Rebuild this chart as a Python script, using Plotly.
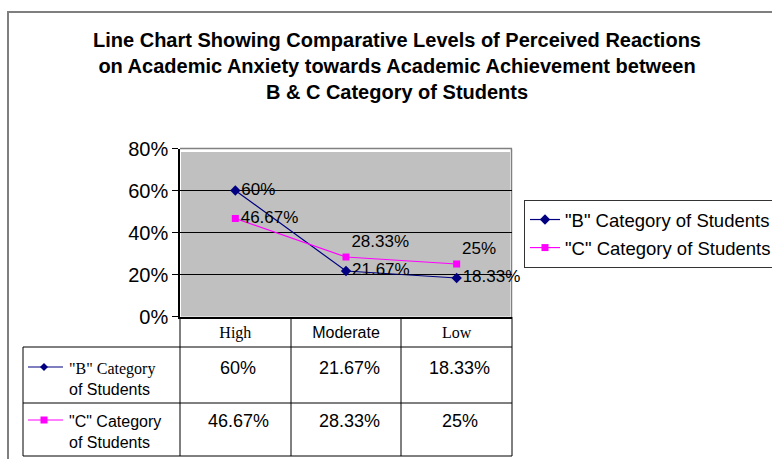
import plotly.graph_objects as go

categories = ["High", "Moderate", "Low"]
b_values = [0.60, 0.2167, 0.1833]
c_values = [0.4667, 0.2833, 0.25]
b_labels = ["60%", "21.67%", "18.33%"]
c_labels = ["46.67%", "28.33%", "25%"]
y_ticks = [0, 0.2, 0.4, 0.6, 0.8]
y_ticktext = ["0%", "20%", "40%", "60%", "80%"]
series_names = ['"B" Category of Students', '"C" Category of Students']
table_row_labels = ['"B" Category<br>of Students', '"C" Category<br>of Students']

W, H = 772, 459
def px(x):
    return x / W
def py(y):
    return 1 - y / H

B_COLOR = "#000080"
C_COLOR = "#FF00FF"
SANS = "Liberation Sans, Arial, sans-serif"
SERIF = "Liberation Serif, Times New Roman, serif"

fig = go.Figure()
fig.add_trace(go.Scatter(
    x=categories, y=b_values, name=series_names[0], mode="lines+markers+text",
    text=b_labels, textposition="middle right", cliponaxis=False,
    textfont=dict(family=SANS, size=17, color="black"),
    line=dict(color=B_COLOR, width=1.2),
    marker=dict(symbol="diamond", size=8, color=B_COLOR),
    legendgroup="b",
))
fig.add_trace(go.Scatter(
    x=categories, y=c_values, name=series_names[1], mode="lines+markers+text",
    text=c_labels, textposition=["middle right", "top right", "top right"], cliponaxis=False,
    textfont=dict(family=SANS, size=17, color="black"),
    line=dict(color=C_COLOR, width=1.2),
    marker=dict(symbol="square", size=7, color=C_COLOR),
    legendgroup="c",
))

shapes = []
# outer chart border
shapes.append(dict(type="rect", xref="paper", yref="paper", x0=px(8), x1=px(800), y0=py(12), y1=py(480),
                   line=dict(color="#7f7f7f", width=2), fillcolor="rgba(0,0,0,0)", layer="below"))
# plot area grey fill
shapes.append(dict(type="rect", xref="paper", yref="paper", x0=px(181), x1=px(510), y0=py(152), y1=py(316.5),
                   line=dict(width=0), fillcolor="#C0C0C0", layer="below"))
# plot area top & right border
shapes.append(dict(type="line", xref="paper", yref="paper", x0=px(180), x1=px(512), y0=py(148.5), y1=py(148.5),
                   line=dict(color="#808080", width=1.5), layer="below"))
shapes.append(dict(type="line", xref="paper", yref="paper", x0=px(511.5), x1=px(511.5), y0=py(148.5), y1=py(317),
                   line=dict(color="#808080", width=1.5), layer="below"))
# data table grid
for yy in [347, 403, 456]:
    shapes.append(dict(type="line", xref="paper", yref="paper", x0=px(23), x1=px(512), y0=py(yy), y1=py(yy),
                       line=dict(color="black", width=1)))
shapes.append(dict(type="line", xref="paper", yref="paper", x0=px(23), x1=px(23), y0=py(347), y1=py(456),
                   line=dict(color="black", width=1)))
for xx in [180, 291, 401, 512]:
    shapes.append(dict(type="line", xref="paper", yref="paper", x0=px(xx), x1=px(xx), y0=py(317), y1=py(456),
                       line=dict(color="black", width=1)))
# table legend keys
for yy, col in [(367, B_COLOR), (420, C_COLOR)]:
    shapes.append(dict(type="line", xref="paper", yref="paper", x0=px(28), x1=px(63), y0=py(yy), y1=py(yy),
                       line=dict(color=col, width=1.2)))
# diamond key
cx, cy = 44, 367
shapes.append(dict(type="path", xref="paper", yref="paper",
                   path=f"M {px(cx-4)} {py(cy)} L {px(cx)} {py(cy-4)} L {px(cx+4)} {py(cy)} L {px(cx)} {py(cy+4)} Z",
                   fillcolor=B_COLOR, line=dict(color=B_COLOR, width=0)))
cx, cy = 44, 420
shapes.append(dict(type="rect", xref="paper", yref="paper", x0=px(cx-3.5), x1=px(cx+3.5), y0=py(cy-3.5), y1=py(cy+3.5),
                   fillcolor=C_COLOR, line=dict(color=C_COLOR, width=0)))

annotations = []
# table values
for vals, yy in [(b_labels, 368), (c_labels, 421)]:
    for cat, v in zip(categories, vals):
        annotations.append(dict(x=cat, xref="x", y=py(yy), yref="paper", text=v, showarrow=False,
                                xanchor="center", yanchor="middle", xshift=3,
                                font=dict(family=SANS, size=18, color="black")))
# table row labels
annotations.append(dict(x=px(67), y=py(379), xref="paper", yref="paper", xanchor="left", yanchor="middle",
                        align="left", showarrow=False,
                        text='<span style="font-family:Liberation Serif">"B" Category</span><br>of Students',
                        font=dict(family=SANS, size=16, color="black")))
annotations.append(dict(x=px(67), y=py(432), xref="paper", yref="paper", xanchor="left", yanchor="middle",
                        align="left", showarrow=False, text=table_row_labels[1],
                        font=dict(family=SANS, size=16, color="black")))

header_text = [
    f'<span style="font-family:Liberation Serif">{categories[0]}</span>',
    categories[1],
    f'<span style="font-family:Liberation Serif">{categories[2]}</span>',
]

fig.update_layout(
    width=W, height=H,
    margin=dict(l=0, r=0, t=0, b=0, autoexpand=False),
    paper_bgcolor="white", plot_bgcolor="rgba(0,0,0,0)",
    title=dict(
        text="Line Chart Showing Comparative Levels of Perceived Reactions<br>"
             "on Academic Anxiety towards Academic Achievement between<br>"
             "B &amp; C Category of Students",
        x=px(397), xanchor="center", y=py(47), yanchor="middle",
        font=dict(family=SANS, size=20, color="black", weight="bold"),
    ),
    xaxis=dict(
        domain=[px(180), px(512)], type="category", range=[-0.5, 2.5],
        showline=True, linecolor="black", linewidth=1.5, showgrid=False, ticks="",
        tickmode="array", tickvals=categories, ticktext=header_text,
        tickfont=dict(family=SANS, size=16, color="black"), ticklabelstandoff=1,
        fixedrange=True,
    ),
    yaxis=dict(
        domain=[py(316.5), py(148.5)], range=[0, 0.8],
        showline=True, linecolor="black", linewidth=1.5,
        showgrid=True, gridcolor="black", gridwidth=1,
        tickmode="array", tickvals=y_ticks, ticktext=y_ticktext,
        ticks="outside", ticklen=6, tickcolor="black",
        tickfont=dict(family=SANS, size=20, color="black"),
        zeroline=False, fixedrange=True,
    ),
    legend=dict(
        x=px(524), y=py(200), xanchor="left", yanchor="top",
        bordercolor="#333333", borderwidth=1, bgcolor="white",
        font=dict(family=SANS, size=18.5, color="black"),
        tracegroupgap=1,
    ),
    showlegend=True,
    shapes=shapes,
    annotations=annotations,
)

fig.write_html("out.html", config={"displayModeBar": False})

# remove the browser's default 8px body margin so the figure sits at the page origin
with open("out.html", encoding="utf-8") as f:
    html = f.read()
html = html.replace("<body>", '<body style="margin:0;padding:0;overflow:hidden">', 1)
with open("out.html", "w", encoding="utf-8") as f:
    f.write(html)
